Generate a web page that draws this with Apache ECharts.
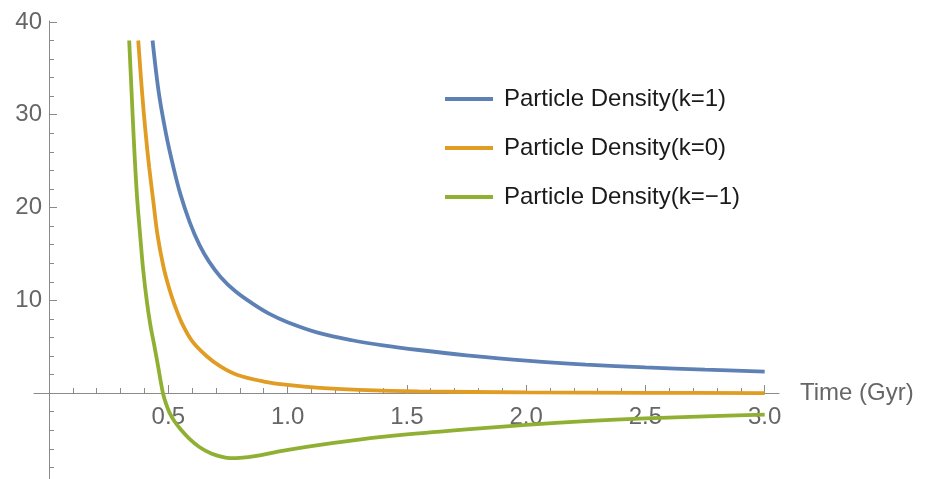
<!DOCTYPE html>
<html>
<head>
<meta charset="utf-8">
<script src="https://cdn.jsdelivr.net/npm/echarts@6/dist/echarts.min.js"></script>
<style>
  html, body { margin: 0; background: #fff; }
  #chart { width: 925px; height: 479px; }
</style>
</head>
<body>
<div id="chart"></div>
<script>
// values
const seriesNames = ['Particle Density(k=1)', 'Particle Density(k=0)', 'Particle Density(k=\u22121)'];

const timeK1 = [0.434, 0.46, 0.49, 0.52, 0.55, 0.59, 0.63, 0.67, 0.72, 0.78, 0.85, 0.92, 1.00, 1.13, 1.27, 1.40, 1.55, 1.75, 2.00, 2.25, 2.50, 2.75, 3.00];
const densK1 = [38.0, 32.4, 28.0, 24.5, 21.5, 18.4, 16.0, 14.2, 12.5, 11.0, 9.7, 8.6, 7.65, 6.5, 5.7, 5.15, 4.65, 4.08, 3.5, 3.08, 2.77, 2.53, 2.33];

const timeK0 = [0.374, 0.39, 0.405, 0.42, 0.437, 0.455, 0.479, 0.50, 0.525, 0.556, 0.60, 0.66, 0.72, 0.79, 0.90, 1.00, 1.135, 1.30, 1.55, 2.00, 2.50, 3.00];
const densK0 = [38.0, 32.4, 28.0, 24.3, 20.7, 17.0, 13.7, 11.6, 9.6, 7.6, 5.6, 4.0, 2.85, 1.95, 1.25, 0.88, 0.56, 0.36, 0.2, 0.08, 0.03, 0.01];

const timeKm1 = [0.336, 0.345, 0.355, 0.368, 0.381, 0.395, 0.41, 0.425, 0.44, 0.455, 0.4775, 0.49, 0.505, 0.525, 0.555, 0.59, 0.63, 0.68, 0.73, 0.76, 0.80, 0.87, 0.95, 1.10, 1.30, 1.50, 1.75, 2.00, 2.25, 2.50, 2.75, 3.00];
const densKm1 = [38.0, 33.0, 27.5, 21.5, 17.3, 13.2, 9.9, 7.3, 5.3, 3.2, 0, -1.1, -2.1, -3.0, -4.0, -4.95, -5.8, -6.5, -6.9, -7.0, -6.97, -6.75, -6.35, -5.7, -5.0, -4.45, -3.9, -3.42, -3.02, -2.72, -2.5, -2.32];

const xMajorTicks = [0.5, 1.0, 1.5, 2.0, 2.5, 3.0];
const xMinorTicks = [0.1, 0.2, 0.3, 0.4, 0.6, 0.7, 0.8, 0.9, 1.1, 1.2, 1.3, 1.4, 1.6, 1.7, 1.8, 1.9, 2.1, 2.2, 2.3, 2.4, 2.6, 2.7, 2.8, 2.9];
const yMajorTicks = [10, 20, 30, 40];
const yMinorTicks = [-8, -6, -4, -2, 2, 4, 6, 8, 12, 14, 16, 18, 22, 24, 26, 28, 32, 34, 36, 38];

const colors = ['#5E81B5', '#E19C24', '#8FB032'];

function pairs(xs, ys) {
  return xs.map(function (x, i) { return [x, ys[i]]; });
}

const font = 'Liberation Sans, Arial, sans-serif';
const axisGray = '#8a8a8a';
const labelGray = '#666';

const xRange = { min: -0.063, max: 3.06 };
const yRange = { min: -9.25, max: 40.1 };

// axes sit on the zero lines: shift them in from the grid edges
const xAxisShift = -86;
const yAxisShift = -15;

const chart = echarts.init(document.getElementById('chart'));

function xAxisBase(extra) {
  return Object.assign({
    type: 'value',
    position: 'bottom',
    offset: xAxisShift,
    min: xRange.min,
    max: xRange.max,
    splitLine: { show: false }
  }, extra);
}

function yAxisBase(extra) {
  return Object.assign({
    type: 'value',
    position: 'left',
    offset: yAxisShift,
    min: yRange.min,
    max: yRange.max,
    splitLine: { show: false }
  }, extra);
}

const option = {
  animation: false,
  color: colors,
  grid: { left: 34, right: 146, top: 21, bottom: 0, outerBoundsMode: 'none', containLabel: false },
  legend: {
    orient: 'vertical',
    left: 440,
    top: 82,
    icon: 'rect',
    itemWidth: 48,
    itemHeight: 4,
    itemGap: 25,
    textStyle: { fontFamily: font, fontSize: 24, color: '#1a1a1a', lineHeight: 24, padding: [0, 0, 0, 6] },
    data: seriesNames
  },
  xAxis: [
    xAxisBase({
      name: 'Time (Gyr)',
      nameLocation: 'end',
      nameGap: 21,
      nameTextStyle: { fontFamily: font, fontSize: 24, color: labelGray, verticalAlign: 'middle' },
      axisLine: { onZero: false, lineStyle: { color: axisGray, width: 1 } },
      axisTick: { show: true, inside: true, length: 8, customValues: xMajorTicks, lineStyle: { color: axisGray } },
      axisLabel: {
        customValues: xMajorTicks,
        margin: 12,
        fontFamily: font, fontSize: 24, color: labelGray,
        formatter: function (v) { return v.toFixed(1); }
      }
    }),
    xAxisBase({
      axisLine: { show: false, onZero: false },
      axisTick: { show: true, inside: true, length: 5, customValues: xMinorTicks, lineStyle: { color: axisGray } },
      axisLabel: { show: false }
    })
  ],
  yAxis: [
    yAxisBase({
      axisLine: { show: true, onZero: false, lineStyle: { color: axisGray, width: 1 } },
      axisTick: { show: true, inside: true, length: 8, customValues: yMajorTicks, lineStyle: { color: axisGray } },
      axisLabel: {
        customValues: yMajorTicks,
        margin: 7,
        padding: [5, 0, 0, 0],
        fontFamily: font, fontSize: 24, color: labelGray
      }
    }),
    yAxisBase({
      axisLine: { show: false, onZero: false },
      axisTick: { show: true, inside: true, length: 5, customValues: yMinorTicks, lineStyle: { color: axisGray } },
      axisLabel: { show: false }
    })
  ],
  series: [
    { name: seriesNames[0], data: pairs(timeK1, densK1) },
    { name: seriesNames[1], data: pairs(timeK0, densK0) },
    { name: seriesNames[2], data: pairs(timeKm1, densKm1) }
  ].map(function (s) {
    return {
      name: s.name,
      type: 'line',
      data: s.data,
      smooth: 0.35,
      showSymbol: false,
      lineStyle: { width: 3.8 }
    };
  })
};

chart.setOption(option);
</script>
</body>
</html>
